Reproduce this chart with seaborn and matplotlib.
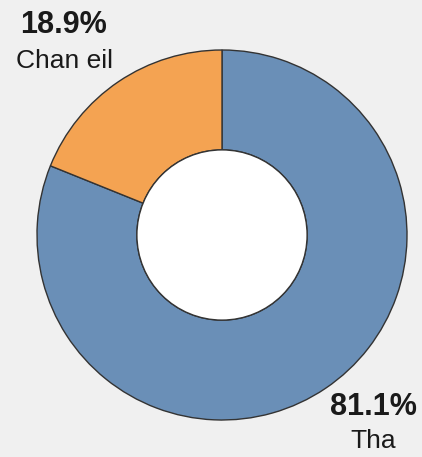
import matplotlib.pyplot as plt
import seaborn as sns

labels = ["Tha", "Chan eil"]
values = [81.1, 18.9]
colors = ["#6a8fb7", "#f4a352"]

sns.set_style("white")
plt.rcParams['font.family'] = ['Liberation Sans', 'DejaVu Sans']

fig = plt.figure(figsize=(4.22, 4.57), dpi=100, facecolor="#f0f0f0")
ax = fig.add_axes([0, 0, 1, 1])
ax.set_facecolor("#f0f0f0")

ax.pie(values, colors=sns.color_palette(colors), startangle=90, counterclock=False,
       radius=1.0, wedgeprops=dict(width=0.54, edgecolor="#333333", linewidth=1.0))
# white hole in the middle
ax.add_patch(plt.Circle((0, 0), 0.46, facecolor="white", edgecolor="#333333",
                        linewidth=1.0, zorder=3))

# put center at (222, 235) px with radius 185 px
r = 185
ax.set_xlim(-222 / r, (422 - 222) / r)
ax.set_ylim(-(457 - 235) / r, 235 / r)
ax.set_aspect("equal")
ax.axis("off")

txt = "#1a1a1a"
fig.text(64 / 422, 1 - 25 / 457, f"{values[1]}%", ha="center", va="center",
         fontsize=22, fontweight="bold", color=txt)
fig.text(64 / 422, 1 - 61 / 457, labels[1], ha="center", va="center",
         fontsize=19, color=txt)
fig.text(373 / 422, 1 - 407 / 457, f"{values[0]}%", ha="center", va="center",
         fontsize=22, fontweight="bold", color=txt)
fig.text(373 / 422, 1 - 441 / 457, labels[0], ha="center", va="center",
         fontsize=19, color=txt)

fig.savefig("out.png", dpi=100, facecolor=fig.get_facecolor())
